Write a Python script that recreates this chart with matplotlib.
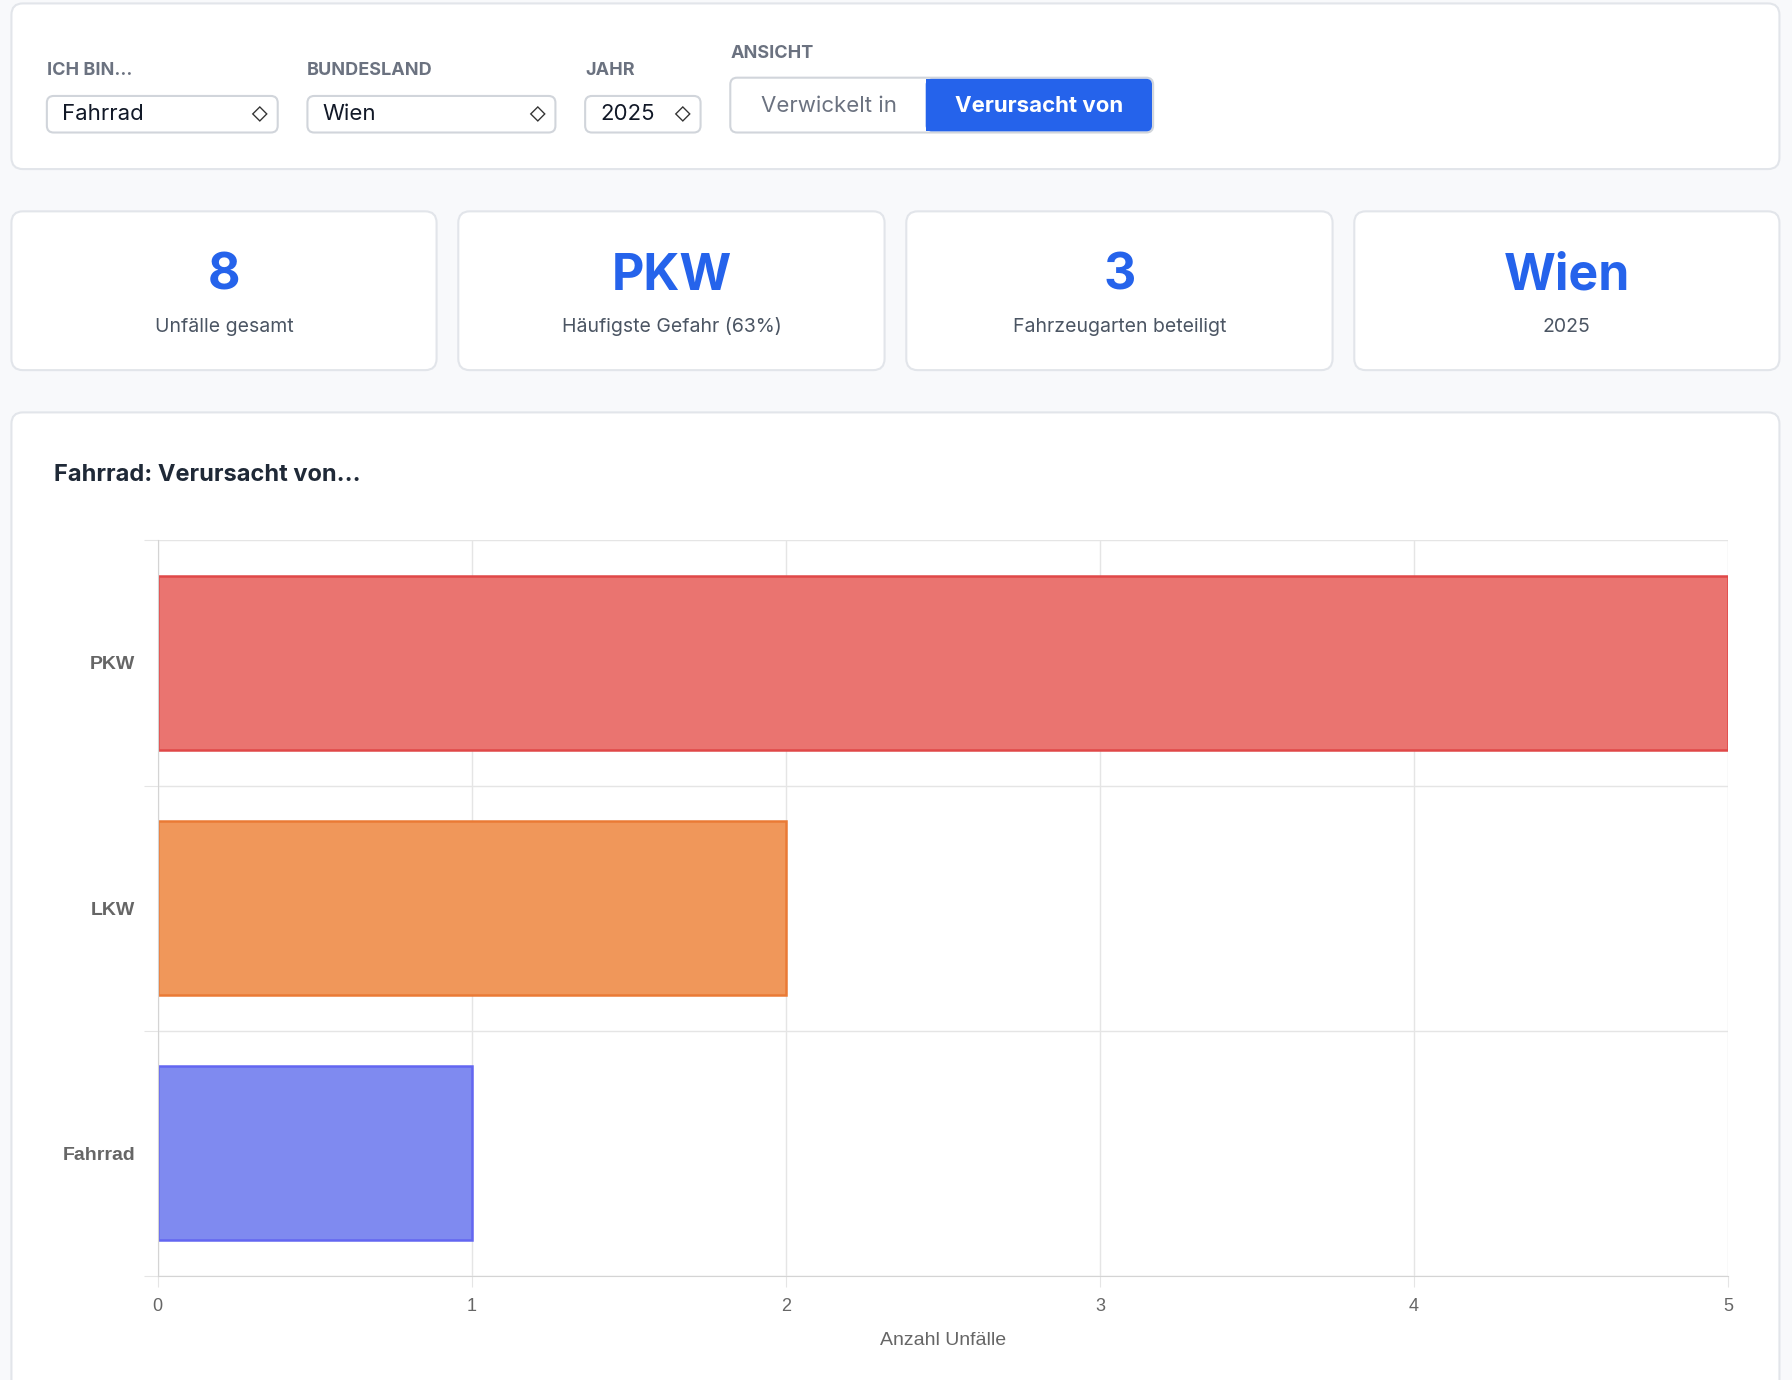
import matplotlib.pyplot as plt
from matplotlib.patches import FancyBboxPatch, Rectangle

categories = ["PKW", "LKW", "Fahrrad"]
values = [5, 2, 1]
barColors = ["#ea7470", "#f0975a", "#7f8af0"]
edgeColors = ["#e04848", "#ea7a35", "#6366f1"]
cardValues = ["8", "PKW", "3", "Wien"]
cardLabels = ["Unfälle gesamt", "Häufigste Gefahr (63%)", "Fahrzeugarten beteiligt", "2025"]

plt.rcParams['font.family'] = ['Inter', 'DejaVu Sans']
fig = plt.figure(figsize=(17.92, 13.8), dpi=100, facecolor="#f8f9fb")
bg = fig.add_axes([0, 0, 1, 1])
bg.set_xlim(0, 1568)
bg.set_ylim(1208, 0)
bg.axis("off")


def box(x0, y0, x1, y1, face="white", edge="#e2e5ea", r=10, lw=1.5):
    bg.add_patch(FancyBboxPatch((x0, y0), x1 - x0, y1 - y0, boxstyle=f"round,pad=0,rounding_size={r}",
                                facecolor=face, edgecolor=edge, linewidth=lw))


# filter panel
box(10, 3, 1557, 148)
gray = "#6b7280"
for label, x, y in [("ICH BIN...", 41, 62), ("BUNDESLAND", 268, 62), ("JAHR", 512, 62), ("ANSICHT", 639, 47)]:
    bg.text(x, y, "\u2009".join(label) if False else label, fontsize=13, fontweight="bold", color=gray,
            va="center", ha="left")
for text, x0, x1 in [("Fahrrad", 41, 243), ("Wien", 269, 486), ("2025", 512, 613)]:
    box(x0, 84, x1, 116, edge="#d1d5db", r=6)
    bg.text(x0 + 13, 100, text, fontsize=16, color="#111827", va="center")
    bg.text(x1 - 16, 100, "⇕" if False else "◇", fontsize=12, color="#333333", va="center", ha="center")
box(639, 68, 1009, 116, edge="#d1d5db", r=6)
bg.add_patch(FancyBboxPatch((810, 69), 198, 46, boxstyle="round,pad=0,rounding_size=5",
                            facecolor="#2563eb", edgecolor="none"))
bg.add_patch(Rectangle((810, 69), 10, 46, facecolor="#2563eb", edgecolor="none"))
bg.text(725, 93, "Verwickelt in", fontsize=16, color="#6b7280", ha="center", va="center")
bg.text(909, 93, "Verursacht von", fontsize=16, color="white", fontweight="bold", ha="center", va="center")

# cards
cardX = [(10, 382), (401, 774), (793, 1166), (1185, 1557)]
for (x0, x1), val, lab in zip(cardX, cardValues, cardLabels):
    box(x0, 185, x1, 324)
    cx = (x0 + x1) / 2
    bg.text(cx, 242, val, fontsize=36, fontweight="bold", color="#2563eb", ha="center", va="center")
    bg.text(cx, 286, lab, fontsize=14, color="#4b5563", ha="center", va="center")

# chart panel
box(10, 361, 1557, 1230)
bg.text(47, 416, "Fahrrad: Verursacht von...", fontsize=17, fontweight="bold", color="#1f2937", va="center")

ax = fig.add_axes([138 / 1568, 1 - 1117 / 1208, (1512 - 138) / 1568, (1117 - 473) / 1208])
ax.set_facecolor("none")
ax.barh(categories, values, height=0.71, color=barColors, edgecolor=edgeColors, linewidth=1.8, zorder=2)
ax.set_xlim(0, 5)
ax.set_ylim(2.5, -0.5)
ax.set_xticks(range(6))
ax.set_yticks([-0.5, 0.5, 1.5, 2.5], minor=False)
ax.set_yticklabels([])
ax.set_yticks([0, 1, 2], minor=True)
ax.set_yticklabels(categories, minor=True, fontsize=14, fontweight="bold", color="#666666",
                   family=['Liberation Sans', 'DejaVu Sans'])
ax.tick_params(axis="y", which="minor", length=0, pad=16)
ax.tick_params(axis="y", which="major", length=10, color="#e5e5e5")
ax.tick_params(axis="x", length=8, color="#e5e5e5", labelsize=13, labelcolor="#666666", pad=8)
for t in ax.get_xticklabels():
    t.set_family(['Liberation Sans', 'DejaVu Sans'])
ax.grid(True, color="#e5e5e5", linewidth=1, zorder=0)
for s in ["top", "right"]:
    ax.spines[s].set_visible(False)
ax.spines["left"].set_color("#d4d4d4")
ax.spines["bottom"].set_color("#d4d4d4")
ax.set_xlabel("Anzahl Unfälle", fontsize=14, color="#666666", labelpad=12,
              family=['Liberation Sans', 'DejaVu Sans'])

fig.savefig("out.png", dpi=100, facecolor=fig.get_facecolor())
